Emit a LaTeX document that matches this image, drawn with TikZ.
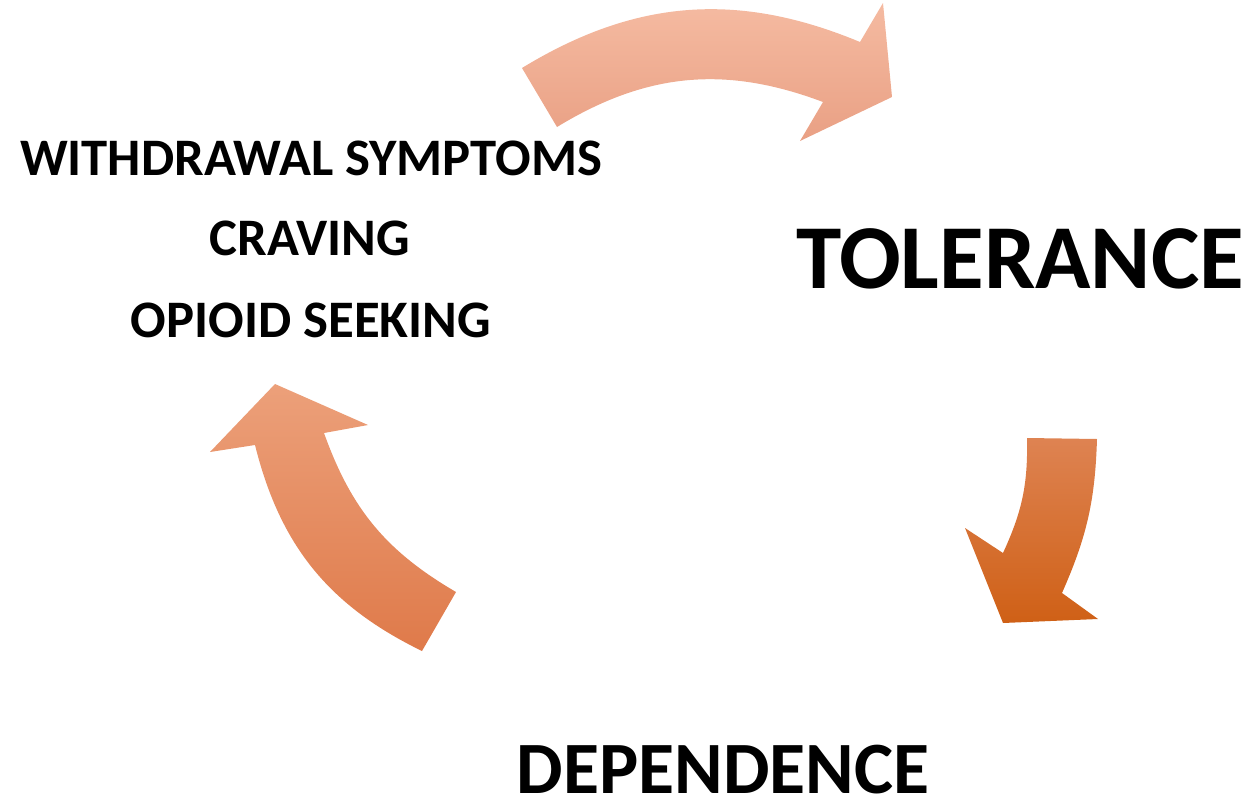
\documentclass[tikz,border=0pt]{standalone}
\usepackage{fontspec}
\setmainfont{Carlito}
\usetikzlibrary{positioning}

\definecolor{peachtop}{HTML}{F6BDA4}
\definecolor{peachbot}{HTML}{E9A084}
\definecolor{salmontop}{HTML}{ECA07A}
\definecolor{salmonbot}{HTML}{DF7A4A}
\definecolor{rusttop}{HTML}{DE8352}
\definecolor{rustbot}{HTML}{CF6016}

\begin{document}
\begin{tikzpicture}[
    x=0.02cm, y=-0.02cm,
    word/.style={font=\fontsize{30}{36}\selectfont\bfseries, anchor=base, inner sep=0pt},
    bigword/.style={font=\fontsize{52}{60}\selectfont\bfseries, anchor=base, inner sep=0pt},
    midword/.style={font=\fontsize{42}{50}\selectfont\bfseries, anchor=base, inner sep=0pt}
]
    \useasboundingbox (0,0) rectangle (1258,805);

    % Top arrow
    \shade[top color=peachtop, bottom color=peachbot]
        (522,68) to[bend left=27] (860,42) -- (883,3) -- (892,97) -- (800,141)
        -- (823,102) to[bend right=26] (557,127) -- cycle;

    % Right arrow
    \shade[top color=rusttop, bottom color=rustbot]
        (1027,438) -- (1097,439) to[bend left=11] (1062,593) -- (1098,619)
        -- (1003,623) -- (965,528) -- (1003,553) to[bend right=13] (1027,438) -- cycle;

    % Left arrow
    \shade[top color=salmontop, bottom color=salmonbot]
        (275,384) -- (368,425) -- (324,433) to[bend right=20] (456,592)
        -- (422,651) to[bend left=25] (255,445) -- (210,452) -- cycle;

    % Labels
    \node[word] (withdrawal) at (311,175) {WITHDRAWAL SYMPTOMS};
    \node[word] (craving) at (310,255) {CRAVING};
    \node[word] (seeking) at (311,337) {OPIOID SEEKING};
    \node[bigword] (tolerance) at (1020,288) {TOLERANCE};
    \node[midword] (dependence) at (723,793) {DEPENDENCE};
\end{tikzpicture}
\end{document}
